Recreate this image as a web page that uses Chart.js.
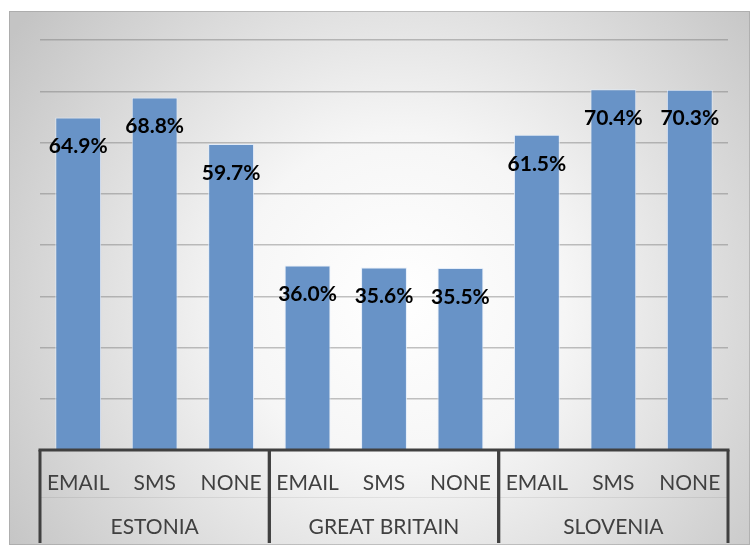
<!DOCTYPE html>
<html>
<head>
<meta charset="utf-8">
<script src="https://cdn.jsdelivr.net/npm/chart.js@4/dist/chart.umd.min.js"></script>
<style>
  html, body { margin: 0; padding: 0; background: #ffffff; }
  #c { display: block; }
</style>
</head>
<body>
<canvas id="c" width="750" height="549"></canvas>
<script>
const categories = ['EMAIL', 'SMS', 'NONE', 'EMAIL', 'SMS', 'NONE', 'EMAIL', 'SMS', 'NONE'];
const groups = ['ESTONIA', 'GREAT BRITAIN', 'SLOVENIA'];
const groupSize = [3, 3, 3];
const values = [64.9, 68.8, 59.7, 36.0, 35.6, 35.5, 61.5, 70.4, 70.3];
const valueLabels = ['64.9%', '68.8%', '59.7%', '36.0%', '35.6%', '35.5%', '61.5%', '70.4%', '70.3%'];

const bgPlugin = {
  id: 'bg',
  beforeDraw(chart) {
    const ctx = chart.ctx;
    ctx.save();
    ctx.fillStyle = '#ffffff';
    ctx.fillRect(0, 0, chart.width, chart.height);
    const x0 = 9, y0 = 11, w = 741, h = 534;
    const g = ctx.createRadialGradient(400, 300, 0, 400, 300, 470);
    g.addColorStop(0, '#ffffff');
    g.addColorStop(0.35, '#f6f6f6');
    g.addColorStop(1, '#c4c4c4');
    ctx.fillStyle = g;
    ctx.fillRect(x0, y0, w, h);
    ctx.strokeStyle = 'rgba(150,150,150,0.5)';
    ctx.lineWidth = 1;
    ctx.strokeRect(x0 + 0.5, y0 + 0.5, w - 1, h - 1);
    ctx.restore();
  }
};

const labelPlugin = {
  id: 'valueLabels',
  afterDatasetsDraw(chart) {
    const ctx = chart.ctx;
    const meta = chart.getDatasetMeta(0);
    ctx.save();
    ctx.font = 'bold 21px Lato';
    ctx.fillStyle = '#000000';
    ctx.textAlign = 'center';
    ctx.textBaseline = 'middle';
    meta.data.forEach((el, i) => {
      ctx.fillText(valueLabels[i], el.x, el.y + 29);
    });
    ctx.restore();
  }
};

const groupPlugin = {
  id: 'groupAxis',
  afterDraw(chart) {
    const ctx = chart.ctx;
    const xs = chart.scales.x;
    const area = chart.chartArea;
    const bottom = 543;
    ctx.save();
    ctx.strokeStyle = 'rgba(0,0,0,0.07)';
    ctx.lineWidth = 1;
    ctx.beginPath();
    ctx.moveTo(area.left, 497.5);
    ctx.lineTo(area.right, 497.5);
    ctx.stroke();
    ctx.strokeStyle = '#404040';
    ctx.lineWidth = 3;
    ctx.beginPath();
    ctx.moveTo(area.left - 1.5, area.bottom);
    ctx.lineTo(area.right + 1.5, area.bottom);
    ctx.stroke();
    ctx.font = '21px Lato';
    ctx.fillStyle = '#404040';
    ctx.textAlign = 'center';
    ctx.textBaseline = 'middle';
    let start = 0;
    groups.forEach((g, gi) => {
      const end = start + groupSize[gi] - 1;
      const l = xs.getPixelForValue(start - 0.5);
      const r = xs.getPixelForValue(end + 0.5);
      ctx.beginPath();
      ctx.moveTo(l, area.bottom);
      ctx.lineTo(l, bottom);
      ctx.moveTo(r, area.bottom);
      ctx.lineTo(r, bottom);
      ctx.stroke();
      ctx.fillText(g, (l + r) / 2, 527);
      start = end + 1;
    });
    ctx.restore();
  }
};

new Chart(document.getElementById('c'), {
  type: 'bar',
  data: {
    labels: categories,
    datasets: [{
      data: values,
      backgroundColor: '#6893c7',
      borderColor: 'rgba(225,235,248,0.9)',
      borderWidth: 1,
      barPercentage: 0.6,
      categoryPercentage: 1.0
    }]
  },
  options: {
    responsive: false,
    animation: false,
    layout: { padding: { left: 40, right: 22, top: 40, bottom: 0 } },
    plugins: { legend: { display: false }, tooltip: { enabled: false }, title: { display: false } },
    scales: {
      x: {
        grid: { display: false },
        border: { display: false },
        ticks: {
          font: { family: 'Lato', size: 21 },
          color: '#404040',
          padding: 13,
          autoSkip: false,
          maxRotation: 0
        },
        afterFit(s) { s.height = 99; }
      },
      y: {
        min: 0,
        max: 80,
        z: 1,
        ticks: { display: false, stepSize: 10 },
        border: { display: false },
        grid: { color: 'rgba(120,120,120,0.45)', lineWidth: 1.5, drawTicks: false }
      }
    }
  },
  plugins: [bgPlugin, labelPlugin, groupPlugin]
});
</script>
</body>
</html>
